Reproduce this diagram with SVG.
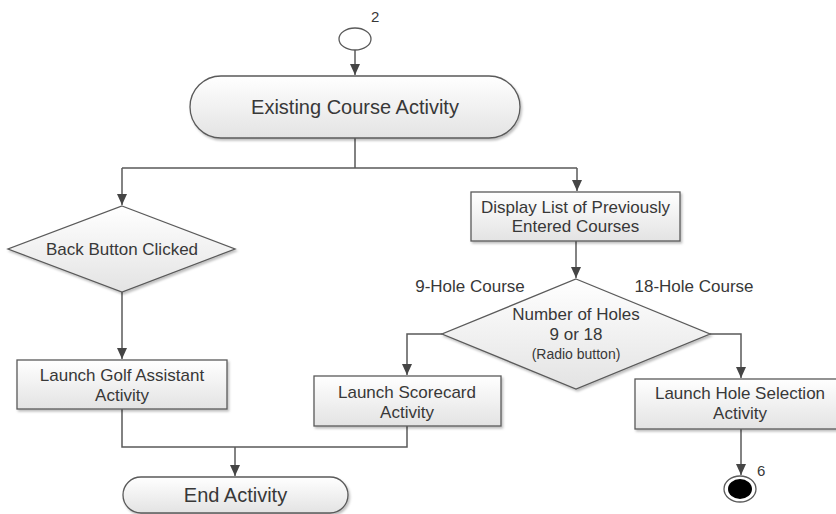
<svg xmlns="http://www.w3.org/2000/svg" width="836" height="514" viewBox="0 0 836 514">
<defs>
<linearGradient id="g" x1="0" y1="0" x2="0" y2="1">
<stop offset="0" stop-color="#ffffff"/>
<stop offset="1" stop-color="#e3e3e3"/>
</linearGradient>
<filter id="sh" x="-10%" y="-10%" width="125%" height="130%">
<feDropShadow dx="1.5" dy="2" stdDeviation="1.2" flood-color="#000" flood-opacity="0.25"/>
</filter>
<marker id="arr" markerUnits="userSpaceOnUse" markerWidth="12" markerHeight="12" viewBox="0 0 12 12" refX="11" refY="6" orient="auto">
<path d="M0,1 L11,6 L0,11 Z" fill="#454545"/>
</marker>
<style>
.shape{fill:url(#g);stroke:#5a5a5a;stroke-width:1.3;filter:url(#sh)}
.t{font-family:"Liberation Sans",Arial,sans-serif;font-size:17px;fill:#383838;text-anchor:middle}
.big{font-size:20px}
.sm{font-size:14px}
.lbl{font-family:"Liberation Sans",Arial,sans-serif;font-size:15px;fill:#383838}
.c{fill:none;stroke:#5a5a5a;stroke-width:1.5}
</style>
</defs>
<rect width="836" height="514" fill="#ffffff"/>

<g id="connectors">
<path class="c" d="M355,50 V75" marker-end="url(#arr)"/>
<path class="c" d="M355,138 V168 M122,168 H577"/>
<path class="c" d="M122,168 V205" marker-end="url(#arr)"/>
<path class="c" d="M577,168 V191" marker-end="url(#arr)"/>
<path class="c" d="M122,292 V359" marker-end="url(#arr)"/>
<path class="c" d="M576,241 V278" marker-end="url(#arr)"/>
<path class="c" d="M442,334 H407 V375" marker-end="url(#arr)"/>
<path class="c" d="M710,334 H741 V378" marker-end="url(#arr)"/>
<path class="c" d="M122,409 V447 H407 V426"/>
<path class="c" d="M235,447 V476" marker-end="url(#arr)"/>
<path class="c" d="M741,429 V475" marker-end="url(#arr)"/>
</g>

<g id="start">
<ellipse cx="355" cy="39" rx="16" ry="11" fill="#ffffff" stroke="#5a5a5a" stroke-width="1.3"/>
<text class="lbl" x="371" y="22">2</text>
</g>

<g id="existing">
<rect class="shape" x="190" y="76" width="330" height="62" rx="31" ry="31"/>
<text class="t big" x="355" y="114">Existing Course Activity</text>
</g>

<g id="back">
<polygon class="shape" points="122,206 235,249 122,292 8,249"/>
<text class="t" x="122" y="255">Back Button Clicked</text>
</g>

<g id="display">
<rect class="shape" x="471" y="192" width="209" height="49"/>
<text class="t" x="575.5" y="213">Display List of Previously</text>
<text class="t" x="575.5" y="232">Entered Courses</text>
</g>

<g id="holes">
<polygon class="shape" points="576,279 710,334 576,389 442,334"/>
<text class="t" x="576" y="320">Number of Holes</text>
<text class="t" x="576" y="340">9 or 18</text>
<text class="t sm" x="576" y="359">(Radio button)</text>
</g>

<g id="labels">
<text class="t" x="470" y="292">9-Hole Course</text>
<text class="t" x="694" y="292">18-Hole Course</text>
</g>

<g id="golf">
<rect class="shape" x="17" y="360" width="210" height="49"/>
<text class="t" x="122" y="381">Launch Golf Assistant</text>
<text class="t" x="122" y="401">Activity</text>
</g>

<g id="scorecard">
<rect class="shape" x="314" y="376" width="187" height="50"/>
<text class="t" x="407" y="398">Launch Scorecard</text>
<text class="t" x="407" y="418">Activity</text>
</g>

<g id="holeselection">
<rect class="shape" x="635" y="379" width="212" height="50"/>
<text class="t" x="740" y="399">Launch Hole Selection</text>
<text class="t" x="740" y="419">Activity</text>
</g>

<g id="end">
<rect class="shape" x="123" y="477" width="225" height="36" rx="18" ry="18"/>
<text class="t big" x="235.5" y="502">End Activity</text>
</g>

<g id="final">
<ellipse cx="740" cy="489" rx="16" ry="13" fill="#ffffff" stroke="#5a5a5a" stroke-width="1.3"/>
<ellipse cx="740" cy="489" rx="12" ry="10" fill="#000000"/>
<text class="lbl" x="757" y="476">6</text>
</g>
</svg>
